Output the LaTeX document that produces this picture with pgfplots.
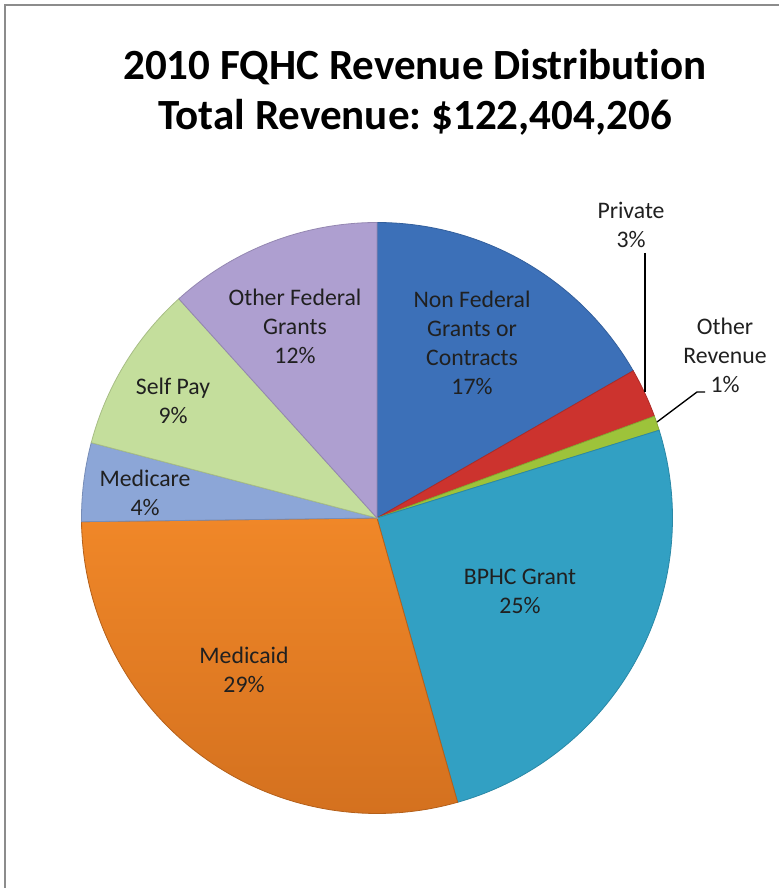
\documentclass[border=0pt]{standalone}
\usepackage{pgfplots}
\pgfplotsset{compat=1.18}
\usepackage{fontspec}
\setmainfont{Carlito}[RawFeature={-liga}]
\frenchspacing
\definecolor{cNF}{HTML}{3C70B8}
\definecolor{cPR}{HTML}{CC332E}
\definecolor{cOR}{HTML}{9DC33A}
\definecolor{cBP}{HTML}{32A0C3}
\definecolor{cMD}{HTML}{F08728}
\definecolor{cMDd}{HTML}{D4711F}
\definecolor{cMC}{HTML}{8CA6D7}
\definecolor{cSP}{HTML}{C4DE9C}
\definecolor{cOF}{HTML}{AE9FD0}
\definecolor{tc}{HTML}{202020}
\definecolor{frame}{HTML}{8C8C8C}
% pie geometry in pixel units
\def\cx{377}\def\cy{370}\def\rr{295.5}
% shares in percent (clockwise from 12 o'clock)
\def\vA{16.7}% Non Federal Grants or Contracts
\def\vB{2.7}%  Private
\def\vC{0.8}%  Other Revenue
\def\vD{25.4}% BPHC Grant
\def\vE{29.2}% Medicaid
\def\vF{4.3}%  Medicare
\def\vG{9.2}%  Self Pay
\def\vH{11.7}% Other Federal Grants
\newcommand\slice[3]{%
  \addplot[#3, line width=0.6pt, domain={90-3.6*(#2)}:{90-3.6*(#1)}, samples=90, variable=\t]
    ({\cx+\rr*cos(\t)},{\cy+\rr*sin(\t)}) -- (axis cs:\cx,\cy) -- cycle;}
\begin{document}
\begin{tikzpicture}
\useasboundingbox (0,0) rectangle (583.5pt,666pt);
\begin{axis}[scale only axis, width=583.5pt, height=666pt,
  xmin=0, xmax=778, ymin=0, ymax=888, hide axis, clip=false]
\slice{0}{\vA}{fill=cNF, draw=cNF!85!black}
\slice{\vA}{\vA+\vB}{fill=cPR, draw=cPR!85!black}
\slice{\vA+\vB}{\vA+\vB+\vC}{fill=cOR, draw=cOR!85!black}
\slice{\vA+\vB+\vC}{\vA+\vB+\vC+\vD}{fill=cBP, draw=cBP!85!black}
\slice{\vA+\vB+\vC+\vD}{\vA+\vB+\vC+\vD+\vE}{top color=cMD, bottom color=cMDd, draw=cMDd!85!black}
\slice{100-\vH-\vG-\vF}{100-\vH-\vG}{fill=cMC, draw=cMC!85!black}
\slice{100-\vH-\vG}{100-\vH}{fill=cSP, draw=cSP!85!black}
\slice{100-\vH}{100}{fill=cOF, draw=cOF!85!black}
% frame
\draw[frame, line width=1.5pt] (axis cs:5,-20) -- (axis cs:5,883) -- (axis cs:800,883);
% title
\node[font=\bfseries\fontsize{32.3}{37.5}\selectfont, align=center, text=black]
  at (axis cs:415,796) {2010 FQHC Revenue Distribution\\Total Revenue: \$122,404,206};
% labels
\tikzset{lab/.style={font=\fontsize{17.8}{21.75}\selectfont, align=center, text=tc, inner sep=0pt}}
\node[lab] at (axis cs:295,562) {Other Federal\\Grants\\12\%};
\node[lab] at (axis cs:472,545.5) {Non Federal\\Grants or\\Contracts\\17\%};
\node[lab] at (axis cs:173,487.5) {Self Pay\\9\%};
\node[lab] at (axis cs:145,395.5) {Medicare\\4\%};
\node[lab] at (axis cs:244,218) {Medicaid\\29\%};
\node[lab] at (axis cs:520,296.5) {BPHC Grant\\25\%};
\node[lab] at (axis cs:631,663.5) {Private\\3\%};
\node[lab] at (axis cs:725,533) {Other\\Revenue\\1\%};
% leader lines
\draw[black, line width=1pt] (axis cs:645,635) -- (axis cs:645,496);
\draw[black, line width=1pt] (axis cs:657,466) -- (axis cs:697,496) -- (axis cs:705,496);
\end{axis}
\end{tikzpicture}
\end{document}
